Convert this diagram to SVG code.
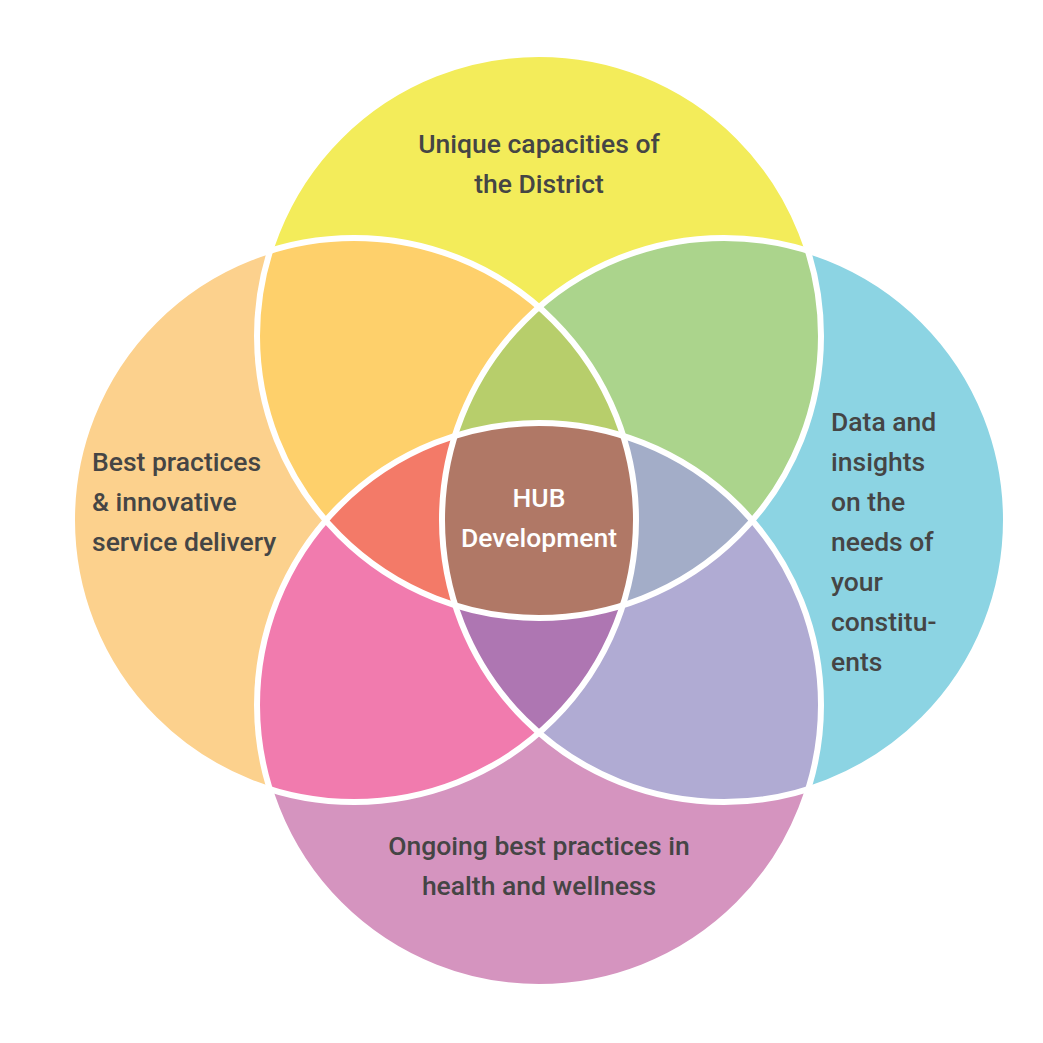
<svg xmlns="http://www.w3.org/2000/svg" xmlns:xlink="http://www.w3.org/1999/xlink" width="1043" height="1043" viewBox="0 0 1043 1043">
  <style>
    .lbl { font-family: Roboto, "Liberation Sans", sans-serif; font-weight: 500; font-size: 26.5px; fill: #454545; }
    .hub { font-family: Roboto, "Liberation Sans", sans-serif; font-weight: 500; font-size: 26.5px; fill: #ffffff; }
    .outline { fill: none; stroke: #ffffff; stroke-width: 6; }
  </style>
  <defs>
    <circle id="cT" cx="539" cy="336" r="282"/>
    <circle id="cL" cx="354" cy="520" r="282"/>
    <circle id="cR" cx="724" cy="520" r="282"/>
    <circle id="cB" cx="539" cy="705" r="282"/>
    <clipPath id="clipT"><use xlink:href="#cT"/></clipPath>
    <clipPath id="clipL"><use xlink:href="#cL"/></clipPath>
    <clipPath id="clipR"><use xlink:href="#cR"/></clipPath>
    <clipPath id="clipB"><use xlink:href="#cB"/></clipPath>
  </defs>

  <rect width="1043" height="1043" fill="#ffffff"/>

  <g id="regions">
    <!-- single circles -->
    <use xlink:href="#cT" fill="#F3EC5A"/>
    <use xlink:href="#cL" fill="#FCD18D"/>
    <use xlink:href="#cR" fill="#8CD4E3"/>
    <use xlink:href="#cB" fill="#D594BF"/>
    <!-- pairs -->
    <g clip-path="url(#clipT)"><use xlink:href="#cL" fill="#FED06B"/></g>
    <g clip-path="url(#clipT)"><use xlink:href="#cR" fill="#ABD48C"/></g>
    <g clip-path="url(#clipB)"><use xlink:href="#cL" fill="#F17BAE"/></g>
    <g clip-path="url(#clipB)"><use xlink:href="#cR" fill="#B0ABD3"/></g>
    <!-- triples -->
    <g clip-path="url(#clipT)"><g clip-path="url(#clipL)"><use xlink:href="#cR" fill="#B7CE6B"/></g></g>
    <g clip-path="url(#clipT)"><g clip-path="url(#clipL)"><use xlink:href="#cB" fill="#F37A68"/></g></g>
    <g clip-path="url(#clipT)"><g clip-path="url(#clipR)"><use xlink:href="#cB" fill="#A3ADC8"/></g></g>
    <g clip-path="url(#clipL)"><g clip-path="url(#clipR)"><use xlink:href="#cB" fill="#AE76B2"/></g></g>
    <!-- all four -->
    <g clip-path="url(#clipT)"><g clip-path="url(#clipL)"><g clip-path="url(#clipR)"><use xlink:href="#cB" fill="#B07866"/></g></g></g>
  </g>

  <g id="outlines">
    <use xlink:href="#cT" class="outline"/>
    <use xlink:href="#cL" class="outline"/>
    <use xlink:href="#cR" class="outline"/>
    <use xlink:href="#cB" class="outline"/>
  </g>

  <g id="node-top">
    <text class="lbl" text-anchor="middle" x="539" y="153">Unique capacities of</text>
    <text class="lbl" text-anchor="middle" x="539" y="193">the District</text>
  </g>
  <g id="node-left">
    <text class="lbl" x="92" y="471">Best practices</text>
    <text class="lbl" x="92" y="511">&amp; innovative</text>
    <text class="lbl" x="92" y="551">service delivery</text>
  </g>
  <g id="node-right">
    <text class="lbl" x="831" y="431">Data and</text>
    <text class="lbl" x="831" y="471">insights</text>
    <text class="lbl" x="831" y="511">on the</text>
    <text class="lbl" x="831" y="551">needs of</text>
    <text class="lbl" x="831" y="591">your</text>
    <text class="lbl" x="831" y="631">constitu-</text>
    <text class="lbl" x="831" y="671">ents</text>
  </g>
  <g id="node-bottom">
    <text class="lbl" text-anchor="middle" x="539" y="855">Ongoing best practices in</text>
    <text class="lbl" text-anchor="middle" x="539" y="895">health and wellness</text>
  </g>
  <g id="node-hub">
    <text class="hub" text-anchor="middle" x="539" y="507">HUB</text>
    <text class="hub" text-anchor="middle" x="539" y="547">Development</text>
  </g>
</svg>
